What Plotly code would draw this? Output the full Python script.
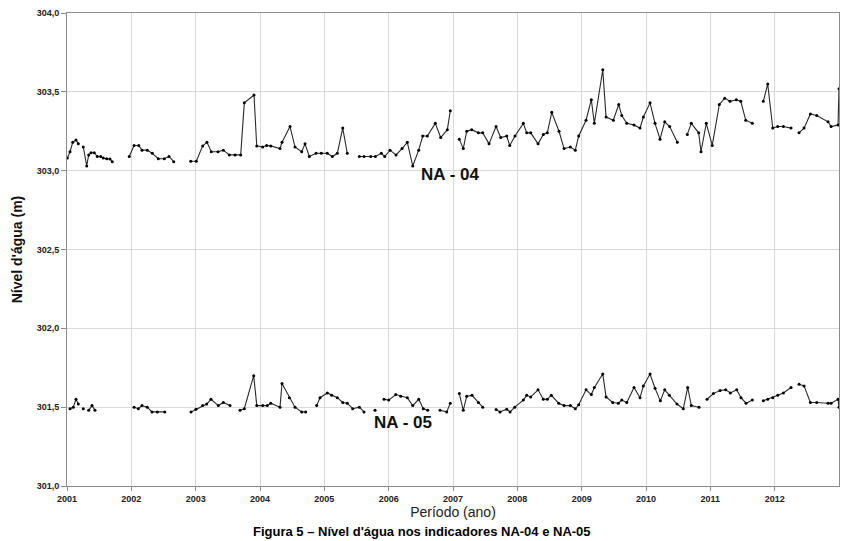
import plotly.graph_objects as go

# NA-04 (decimal year, water level in m); None = gap in record
na04_t = [2001.005, 2001.047, 2001.089, 2001.14, 2001.176, None,
          2001.253, 2001.306, 2001.337, 2001.373, 2001.424, 2001.471, 2001.524, 2001.564, 2001.617, 2001.668, 2001.704, None,
          2001.968, 2002.042, 2002.115, 2002.166, 2002.248, 2002.326, 2002.419, 2002.513, 2002.586, 2002.659, None,
          2002.923, 2003.010, 2003.109, 2003.176, 2003.243, 2003.347, 2003.430, 2003.523, 2003.612, 2003.700, 2003.756, 2003.907,
          2003.949, 2004.042, 2004.104, 2004.167, 2004.311, 2004.342, 2004.467, 2004.544, 2004.648, 2004.700, 2004.767, 2004.871,
          2004.953, 2005.046, 2005.124, 2005.202, 2005.286, 2005.357, None,
          2005.544, 2005.617, 2005.721, 2005.793, 2005.886, 2005.939, 2006.021, 2006.114, 2006.208, 2006.290, 2006.374, 2006.467,
          2006.529, 2006.601, 2006.725, 2006.809, 2006.912, 2006.958, None,
          2007.098, 2007.160, 2007.213, 2007.291, 2007.394, 2007.462, 2007.560, 2007.669, 2007.742, 2007.835, 2007.882, 2007.964,
          2008.093, 2008.146, 2008.208, 2008.322, 2008.404, 2008.466, 2008.535, 2008.648, 2008.726, 2008.824, 2008.901, 2008.954,
          2009.068, 2009.150, 2009.197, 2009.328, 2009.379, 2009.492, 2009.576, 2009.623, 2009.701, 2009.814, 2009.907, 2009.959,
          2010.063, 2010.140, 2010.218, 2010.291, 2010.368, 2010.487, None,
          2010.642, 2010.704, 2010.819, 2010.855, 2010.937, 2011.030, 2011.140, 2011.224, 2011.306, 2011.404, 2011.473, 2011.550,
          2011.653, None,
          2011.824, 2011.892, 2011.970, 2012.048, 2012.135, 2012.255, None,
          2012.379, 2012.457, 2012.555, 2012.654, 2012.830, 2012.877, 2012.985, 2013.0]
na04_v = [303.08, 303.12, 303.18, 303.195, 303.17, None,
          303.15, 303.03, 303.10, 303.114, 303.114, 303.09, 303.09, 303.08, 303.076, 303.074, 303.057, None,
          303.09, 303.16, 303.16, 303.13, 303.13, 303.11, 303.076, 303.076, 303.09, 303.057, None,
          303.06, 303.06, 303.157, 303.18, 303.12, 303.12, 303.13, 303.10, 303.10, 303.10, 303.43, 303.48,
          303.157, 303.15, 303.16, 303.157, 303.14, 303.18, 303.28, 303.15, 303.12, 303.17, 303.09, 303.11,
          303.11, 303.11, 303.09, 303.11, 303.27, 303.11, None,
          303.09, 303.09, 303.09, 303.09, 303.11, 303.09, 303.13, 303.10, 303.14, 303.18, 303.03, 303.13,
          303.22, 303.22, 303.30, 303.21, 303.26, 303.38, None,
          303.20, 303.14, 303.25, 303.26, 303.24, 303.24, 303.17, 303.28, 303.21, 303.22, 303.16, 303.22,
          303.30, 303.24, 303.24, 303.17, 303.23, 303.24, 303.37, 303.25, 303.14, 303.15, 303.13, 303.22,
          303.32, 303.45, 303.30, 303.64, 303.34, 303.32, 303.42, 303.35, 303.30, 303.29, 303.27, 303.34,
          303.43, 303.30, 303.20, 303.31, 303.28, 303.18, None,
          303.23, 303.30, 303.24, 303.12, 303.30, 303.16, 303.42, 303.46, 303.44, 303.45, 303.44, 303.32,
          303.30, None,
          303.44, 303.55, 303.27, 303.28, 303.28, 303.27, None,
          303.24, 303.27, 303.36, 303.35, 303.31, 303.28, 303.29, 303.52]

# NA-05
na05_t = [2001.047, 2001.098, 2001.14, 2001.176, None,
          2001.253, None,
          2001.337, 2001.389, 2001.435, None,
          2002.042, 2002.109, 2002.166, 2002.248, 2002.321, 2002.404, 2002.519, None,
          2002.928, 2003.005, 2003.109, 2003.172, 2003.238, 2003.352, 2003.430, 2003.534, None,
          2003.689, 2003.756, 2003.902, 2003.950, 2004.042, 2004.114, 2004.167, 2004.311, 2004.342, 2004.456, 2004.544,
          2004.648, 2004.710, None,
          2004.881, 2004.933, 2005.046, 2005.115, 2005.202, 2005.286, 2005.357, 2005.441, 2005.544, 2005.617, None,
          2005.788, None,
          2005.928, 2006.001, 2006.110, 2006.188, 2006.290, 2006.374, 2006.467, 2006.539, 2006.607, None,
          2006.798, 2006.902, 2006.958, None,
          2007.098, 2007.160, 2007.213, 2007.296, 2007.394, 2007.462, None,
          2007.669, 2007.731, 2007.835, 2007.887, 2007.960, 2008.093, 2008.146, 2008.208, 2008.322, 2008.404, 2008.466,
          2008.528, 2008.643, 2008.726, 2008.824, 2008.901, 2008.954, 2009.068, 2009.150, 2009.197, 2009.328, 2009.379,
          2009.483, 2009.570, 2009.623, 2009.701, 2009.814, 2009.907, 2009.959, 2010.063, 2010.140, 2010.223, 2010.291,
          2010.363, 2010.482, 2010.580, 2010.648, 2010.704, 2010.824, None,
          2010.949, 2011.047, 2011.151, 2011.239, 2011.311, 2011.410, 2011.477, 2011.555, 2011.653, None,
          2011.824, 2011.892, 2011.970, 2012.048, 2012.135, 2012.255, None,
          2012.379, 2012.457, 2012.555, 2012.654, 2012.830, 2012.877, 2012.985, 2013.0]
na05_v = [301.49, 301.50, 301.55, 301.52, None,
          301.49, None,
          301.48, 301.51, 301.48, None,
          301.50, 301.49, 301.51, 301.50, 301.47, 301.47, 301.47, None,
          301.47, 301.487, 301.51, 301.52, 301.55, 301.51, 301.53, 301.51, None,
          301.48, 301.49, 301.70, 301.51, 301.51, 301.51, 301.525, 301.50, 301.65, 301.56, 301.50,
          301.47, 301.47, None,
          301.51, 301.56, 301.59, 301.575, 301.56, 301.53, 301.525, 301.49, 301.50, 301.47, None,
          301.48, None,
          301.55, 301.545, 301.58, 301.57, 301.56, 301.51, 301.55, 301.49, 301.48, None,
          301.48, 301.47, 301.525, None,
          301.586, 301.48, 301.57, 301.575, 301.53, 301.50, None,
          301.485, 301.47, 301.487, 301.47, 301.50, 301.545, 301.575, 301.565, 301.61, 301.55, 301.55,
          301.575, 301.525, 301.51, 301.51, 301.49, 301.515, 301.61, 301.58, 301.625, 301.71, 301.565,
          301.53, 301.525, 301.545, 301.53, 301.625, 301.56, 301.635, 301.71, 301.62, 301.54, 301.61,
          301.575, 301.52, 301.49, 301.625, 301.51, 301.50, None,
          301.55, 301.586, 301.605, 301.61, 301.59, 301.61, 301.56, 301.525, 301.545, None,
          301.54, 301.55, 301.56, 301.575, 301.59, 301.625, None,
          301.645, 301.635, 301.53, 301.53, 301.525, 301.525, 301.55, 301.50]

x_ticks = [2001, 2002, 2003, 2004, 2005, 2006, 2007, 2008, 2009, 2010, 2011, 2012]
x_tick_labels = ["2001", "2002", "2003", "2004", "2005", "2006", "2007", "2008", "2009", "2010", "2011", "2012"]
y_ticks = [301.0, 301.5, 302.0, 302.5, 303.0, 303.5, 304.0]
y_tick_labels = ["301,0", "301,5", "302,0", "302,5", "303,0", "303,5", "304,0"]

fig = go.Figure()
for t, v in [(na04_t, na04_v), (na05_t, na05_v)]:
    fig.add_trace(go.Scatter(
        x=t, y=v, mode="lines+markers", connectgaps=False,
        line=dict(color="#2a2a2a", width=1.1),
        marker=dict(color="#000000", size=3),
        showlegend=False, hoverinfo="skip",
    ))

fig.add_annotation(x=2006.95, y=302.975, text="<b>NA - 04</b>", showarrow=False,
                   font=dict(family="Liberation Sans, Arial", size=17, color="#111111"))
fig.add_annotation(x=2006.22, y=301.40, text="<b>NA - 05</b>", showarrow=False,
                   font=dict(family="Liberation Sans, Arial", size=17, color="#111111"))
fig.add_annotation(xref="paper", yref="paper", x=0.46, y=-0.096, yanchor="middle",
                   text="<b>Figura 5 – Nível d'água nos indicadores NA-04 e NA-05</b>", showarrow=False,
                   font=dict(family="Liberation Sans, Arial", size=13, color="#000000"))

fig.update_layout(
    width=841, height=541,
    margin=dict(l=67, r=2, t=13, b=55),
    paper_bgcolor="white", plot_bgcolor="white",
    font=dict(family="Liberation Sans, Arial", color="#222222"),
    xaxis=dict(
        range=[2001, 2013], tickvals=x_ticks, ticktext=x_tick_labels,
        showgrid=True, gridcolor="#d9d9d9", gridwidth=1,
        showline=True, linecolor="#8c8c8c", linewidth=1, mirror=True,
        ticks="outside", ticklen=4, tickcolor="#8c8c8c",
        tickfont=dict(size=9, color="#222222", weight="bold", family="Liberation Sans Narrow, Liberation Sans, Arial"),
        zeroline=False,
        title=dict(text="Período (ano)", font=dict(size=14, color="#222222"), standoff=4),
    ),
    yaxis=dict(
        range=[301.0, 304.0], tickvals=y_ticks, ticktext=y_tick_labels,
        showgrid=True, gridcolor="#d9d9d9", gridwidth=1,
        showline=True, linecolor="#8c8c8c", linewidth=1, mirror=True,
        ticks="outside", ticklen=5, tickcolor="#8c8c8c",
        tickfont=dict(size=9, color="#222222", weight="bold", family="Liberation Sans Narrow, Liberation Sans, Arial"),
        zeroline=False,
        title=dict(text="<b>Nível d'água (m)</b>", font=dict(size=14, color="#111111"), standoff=10),
    ),
)

fig.write_html("out.html", config={"displayModeBar": False},
               post_script="document.body.style.margin='0';document.body.style.overflow='hidden';")
